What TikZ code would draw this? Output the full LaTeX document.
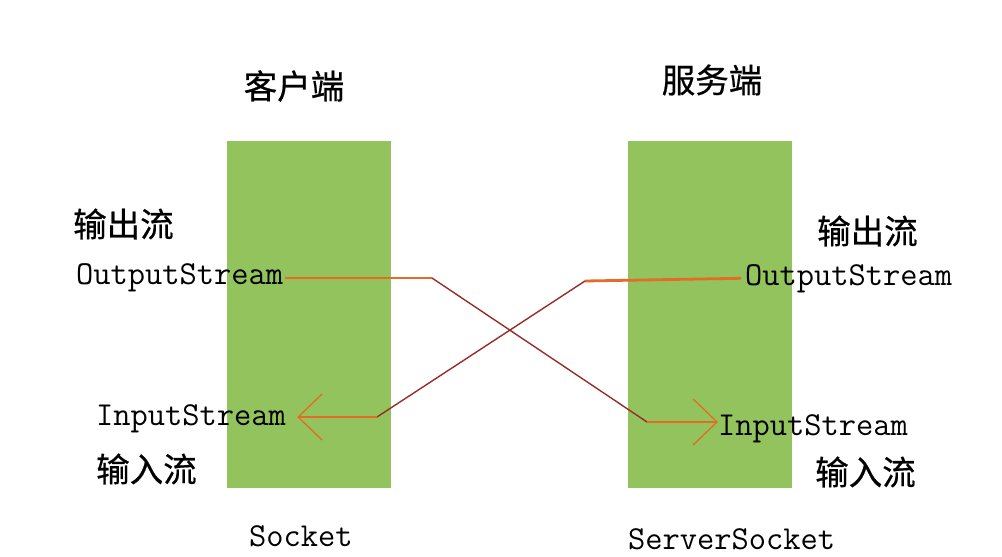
\documentclass[tikz,border=0pt]{standalone}
\usepackage{fontspec}
\newfontfamily\cjk[FakeBold=0.6]{Noto Sans CJK SC}
\usetikzlibrary{arrows.meta}
\definecolor{boxgreen}{RGB}{146,195,92}
\definecolor{lineorange}{RGB}{228,108,40}
\definecolor{linedark}{RGB}{150,45,40}
\begin{document}
\begin{tikzpicture}[x=1pt,y=-1pt,
  cn/.style={font=\cjk\fontsize{33.5}{40}\selectfont, inner sep=0pt},
  en/.style={font=\ttfamily\fontsize{33.5}{40}\selectfont, inner sep=0pt, anchor=base west},
  sockbox/.style={fill=boxgreen, draw=none, minimum width=164pt, minimum height=347pt, inner sep=0pt, anchor=north west},
  hline/.style={lineorange, line width=2.8pt},
  dline/.style={linedark, line width=1.4pt},
  tipend/.style={-{Straight Barb[length=24pt,width=46pt,line width=1.3pt]}}]
\useasboundingbox (0,0) rectangle (1002,557);
% socket boxes
\node[sockbox] (cbox) at (227,141) {};
\node[sockbox] (sbox) at (628,141) {};
% titles
\node[cn] (ct) at (294,86) {客户端};
\node[cn] (st) at (712,80) {服务端};
% client labels
\node[cn,anchor=west] (lout) at (73,224) {输出流};
\node[en] (los) at (76,284) {OutputStream};
\node[en] (lis) at (96,425) {InputStream};
\node[cn,anchor=west] (lin) at (96,469) {输入流};
\node[en] (sock) at (249,546) {Socket};
% server labels
\node[cn,anchor=west] (rout) at (817,231) {输出流};
\node[en] (ros) at (745,285) {OutputStream};
\node[en] (ris) at (718,435) {InputStream};
\node[cn,anchor=west] (rin) at (815,472) {输入流};
\node[en] (ssock) at (628,549) {ServerSocket};
% connectors
\coordinate (a1) at (432,278);
\coordinate (a2) at (647,422);
\coordinate (b1) at (585,281);
\coordinate (b2) at (377,417);
\draw[hline] ([xshift=2pt]los.east |- a1) -- (a1);
\draw[dline] (a1) -- (a2);
\draw[hline,tipend] (a2) -- (ris.west |- a2);
\draw[hline] ([xshift=-4pt]ros.west) -- (b1);
\draw[dline] (b1) -- (b2);
\draw[hline,tipend] (b2) -- ([xshift=11pt]lis.east |- b2);
\end{tikzpicture}
\end{document}
